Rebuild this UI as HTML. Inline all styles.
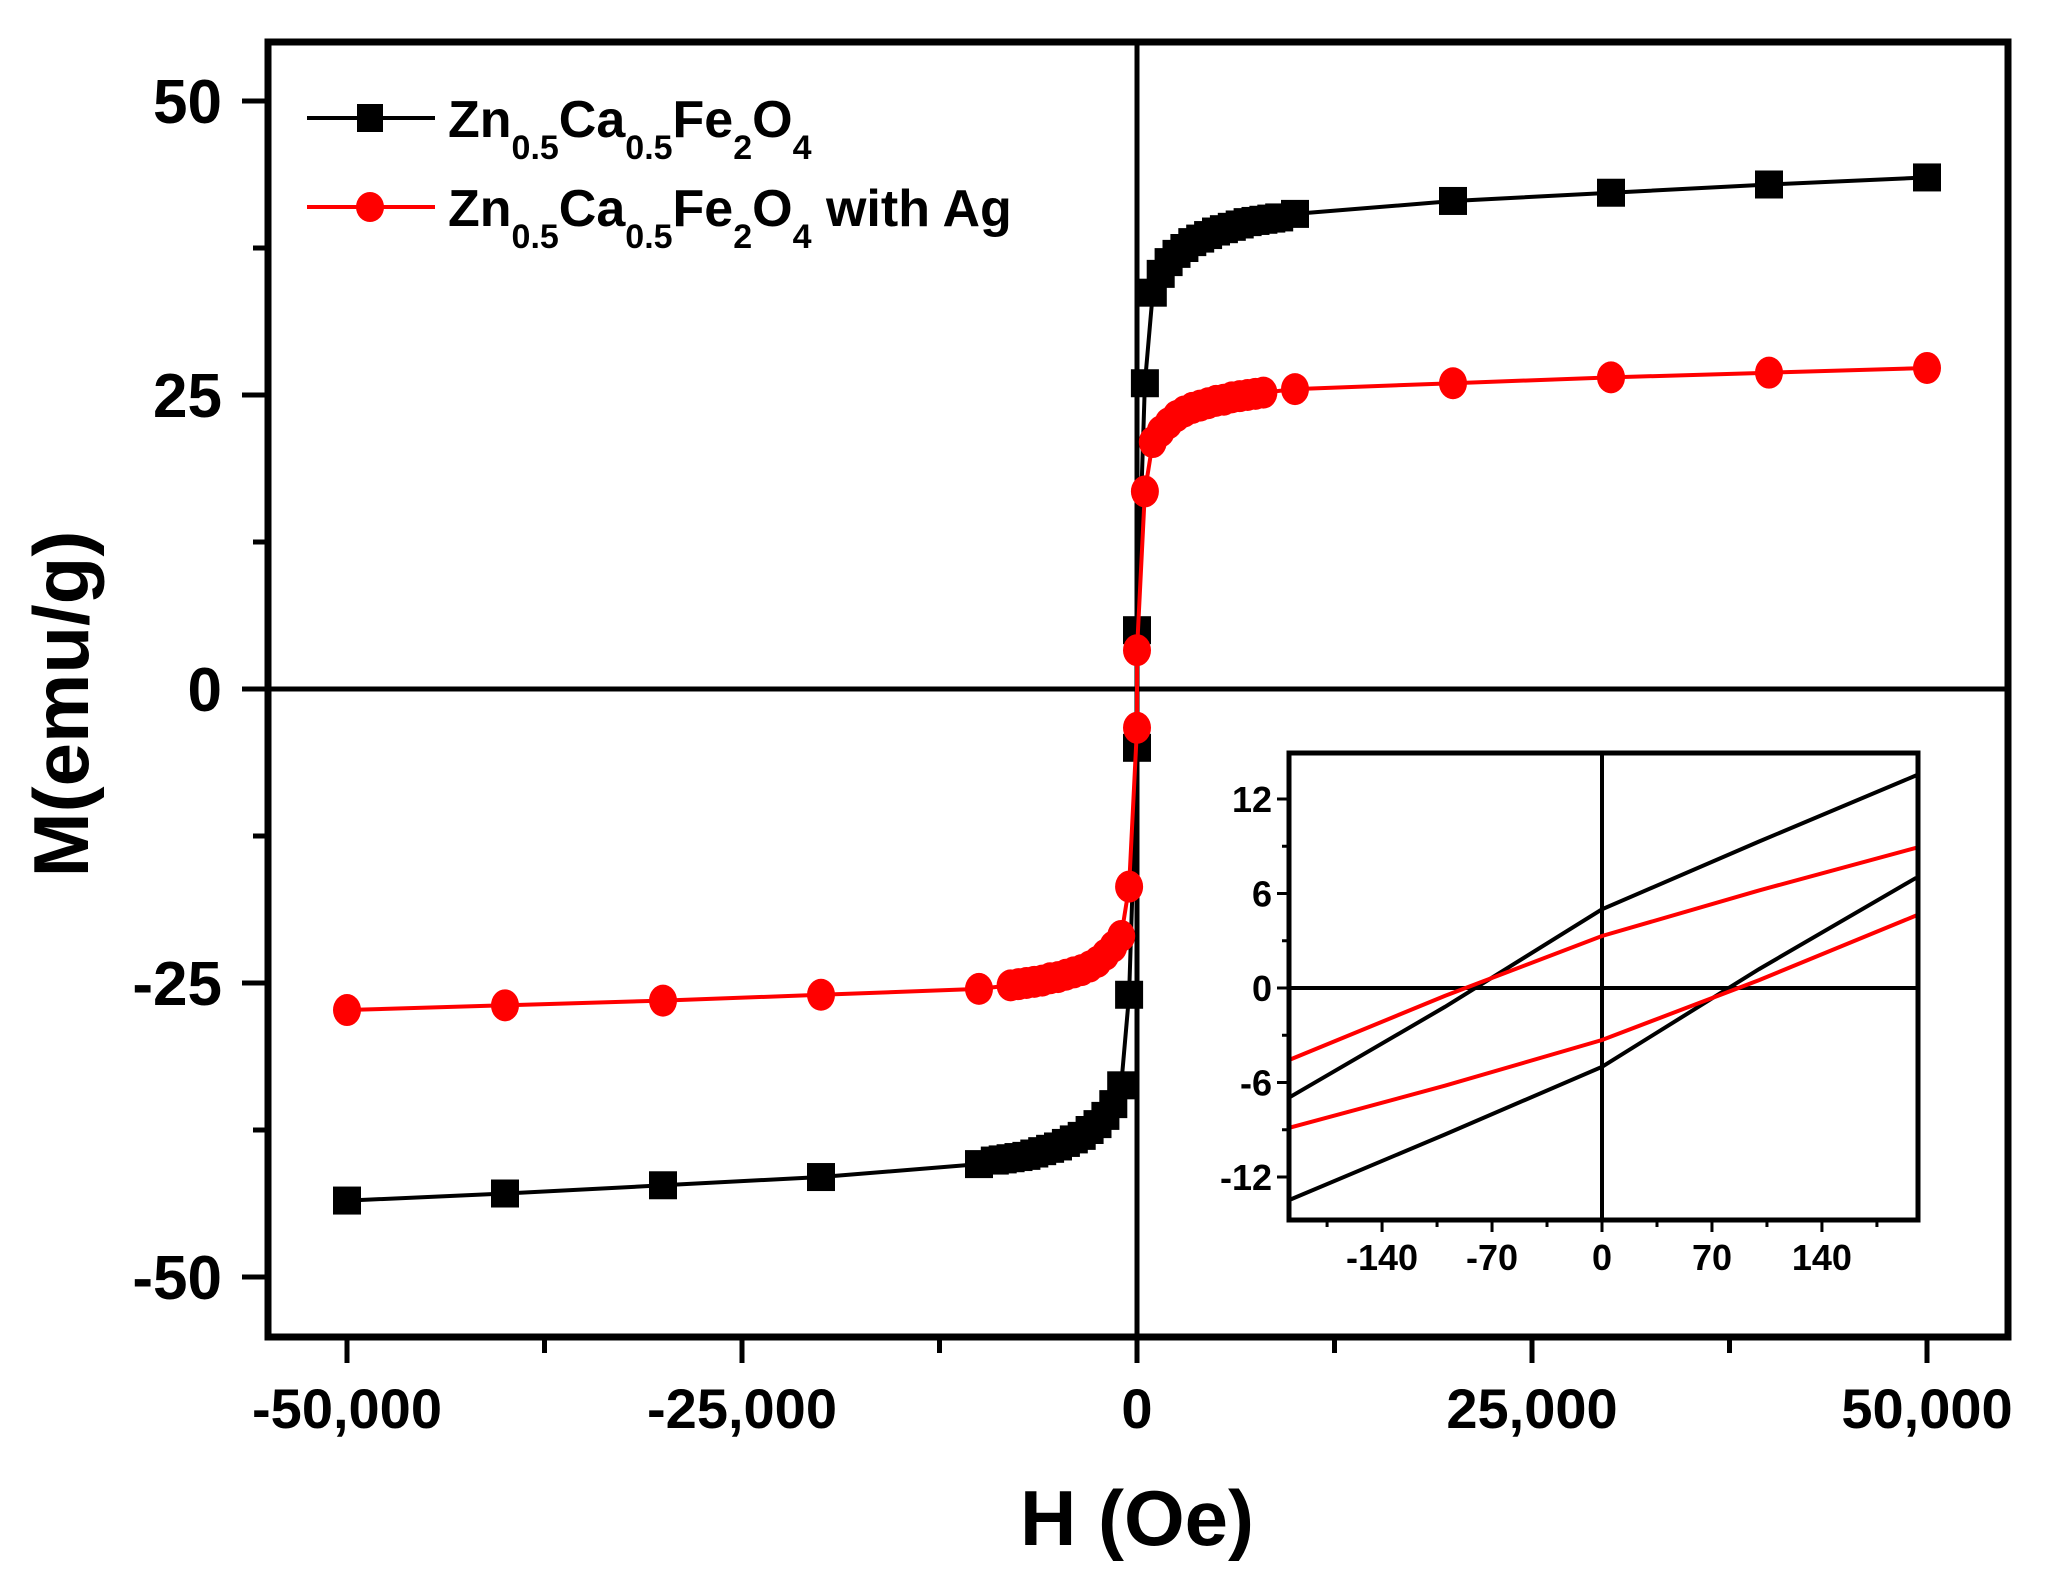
<!DOCTYPE html>
<html><head><meta charset="utf-8"><style>
html,body{margin:0;padding:0;background:#fff;}
svg{display:block;}
text{font-family:"Liberation Sans",Arial,sans-serif;font-weight:bold;fill:#000;}
</style></head><body>
<svg id="s" width="2050" height="1577" viewBox="0 0 2050 1577" xmlns="http://www.w3.org/2000/svg">
<rect width="2050" height="1577" fill="#fff"/>
<g id="g"></g>
<!-- legend -->
<line x1="307" y1="118" x2="435" y2="118" stroke="#000" stroke-width="4"/>
<rect x="357" y="104" width="26" height="28" fill="#000"/>
<line x1="307" y1="207" x2="435" y2="207" stroke="#f00" stroke-width="4"/>
<ellipse cx="370" cy="207" rx="14" ry="15" fill="#f00"/>
<text x="448" y="137" font-size="52">Zn<tspan font-size="34" dy="22">0.5</tspan><tspan dy="-22">Ca</tspan><tspan font-size="34" dy="22">0.5</tspan><tspan dy="-22">Fe</tspan><tspan font-size="34" dy="22">2</tspan><tspan dy="-22">O</tspan><tspan font-size="34" dy="22">4</tspan></text>
<text x="448" y="226" font-size="52">Zn<tspan font-size="34" dy="22">0.5</tspan><tspan dy="-22">Ca</tspan><tspan font-size="34" dy="22">0.5</tspan><tspan dy="-22">Fe</tspan><tspan font-size="34" dy="22">2</tspan><tspan dy="-22">O</tspan><tspan font-size="34" dy="22">4</tspan><tspan dy="-22"> with Ag</tspan></text>
<!-- axis titles -->
<text x="1137" y="1545" font-size="78" text-anchor="middle">H (Oe)</text>
<text transform="translate(88,704) rotate(-90)" font-size="78" text-anchor="middle">M(emu/g)</text>
</svg>
<script>
(function(){
var NS="http://www.w3.org/2000/svg",g=document.getElementById('g');
function el(t,a){var e=document.createElementNS(NS,t);for(var k in a)e.setAttribute(k,a[k]);g.appendChild(e);return e;}
function tx(x,y,s,fs,anc){var e=el('text',{x:x,y:y,'font-size':fs,'text-anchor':anc});e.textContent=s;}
var X=function(h){return 1137+h*0.0158;}, Y=function(m){return 689-m*11.76;};
el('line',{x1:268,y1:689,x2:2008,y2:689,stroke:'#000','stroke-width':5});
el('line',{x1:1137,y1:42,x2:1137,y2:1337,stroke:'#000','stroke-width':5});
for(var i=-4;i<=4;i++){var h=i*12500,x=X(h),maj=(i%2==0);
 el('line',{x1:x,y1:1337,x2:x,y2:1337+(maj?26:16),stroke:'#000','stroke-width':5});}
var xl={"-50,000":-50000,"-25,000":-25000,"0":0,"25,000":25000,"50,000":50000};
for(var k in xl)tx(X(xl[k]),1428,k,56,'middle');
for(var j=-4;j<=4;j++){var y=Y(j*12.5),maj=(j%2==0);
 el('line',{x1:268,y1:y,x2:268-(maj?26:15),y2:y,stroke:'#000','stroke-width':5});
 if(maj)tx(222,y+22,String(j*12.5),62,'end');}
var bk=[[50000,43.5],[40000,42.9],[30000,42.2],[20000,41.5],[10000,40.4],[9000,40.1],[8500,40.0],[8000,39.9],[7500,39.8],[7000,39.7],[6500,39.5],[6000,39.3],[5500,39.1],[5000,38.9],[4500,38.6],[4000,38.3],[3500,38.0],[3000,37.5],[2500,37.0],[2000,36.3],[1500,35.3],[1000,33.7],[500,26],[0,5]];
var rd=[[50000,27.3],[40000,26.9],[30000,26.5],[20000,26.0],[10000,25.5],[8000,25.2],[7500,25.1],[7000,25.0],[6500,24.9],[6000,24.8],[5500,24.6],[5000,24.5],[4500,24.3],[4000,24.1],[3500,23.9],[3000,23.6],[2500,23.2],[2000,22.6],[1500,21.9],[1000,21.0],[500,16.8],[0,3.3]];
function full(a){var r=[];for(var i=0;i<a.length;i++)r.push([-a[i][0],-a[i][1]]);for(var i=a.length-1;i>=0;i--)r.push(a[i]);return r;}
function draw(a,col,sq){var p=full(a),d='';p.forEach(function(q,i){d+=(i?'L':'M')+X(q[0]).toFixed(1)+' '+Y(q[1]).toFixed(1);});
 el('path',{d:d,fill:'none',stroke:col,'stroke-width':4});
 p.forEach(function(q){var x=X(q[0]),y=Y(q[1]);if(sq)el('rect',{x:x-14,y:y-14,width:28,height:28,fill:col});else el('ellipse',{cx:x,cy:y,rx:14,ry:16,fill:col});});}
draw(bk,'#000',true);draw(rd,'#f00',false);
el('rect',{x:268,y:42,width:1740,height:1295,fill:'none',stroke:'#000','stroke-width':7});
var L=1289,R=1918,T=753,B=1220,ix=function(h){return 1602+h*1.571;},iy=function(m){return 988-m*15.75;};
el('rect',{x:L,y:T,width:R-L,height:B-T,fill:'#fff',stroke:'none'});
el('line',{x1:L,y1:iy(0),x2:R,y2:iy(0),stroke:'#000','stroke-width':4});
el('line',{x1:ix(0),y1:T,x2:ix(0),y2:B,stroke:'#000','stroke-width':4});
function ln(pts,col){var d='';pts.forEach(function(q,i){d+=(i?'L':'M')+ix(q[0]).toFixed(1)+' '+iy(q[1]).toFixed(1);});el('path',{d:d,fill:'none',stroke:col,'stroke-width':4});}
ln([[-200,-7],[-100,-1.2],[0,5],[100,9.3],[200,13.5]],'#000');
ln([[-200,-13.5],[-100,-9.3],[0,-5],[100,1.2],[200,7]],'#000');
ln([[-200,-4.6],[-100,-0.5],[0,3.3],[100,6.2],[200,8.9]],'#f00');
ln([[-200,-8.9],[-100,-6.2],[0,-3.3],[100,0.5],[200,4.6]],'#f00');
for(var m=-12;m<=12;m+=3){var y=iy(m),maj=(m%6==0);el('line',{x1:L,y1:y,x2:L-(maj?12:7),y2:y,stroke:'#000','stroke-width':3});if(maj)tx(1272,y+13,String(m),36,'end');}
for(var h=-175;h<=175;h+=35){var x=ix(h),maj=(h%70==0);el('line',{x1:x,y1:B,x2:x,y2:B+(maj?12:7),stroke:'#000','stroke-width':3});if(maj)tx(x,1270,String(h),36,'middle');}
el('rect',{x:L,y:T,width:R-L,height:B-T,fill:'none',stroke:'#000','stroke-width':5});
})();
</script>
</body></html>
